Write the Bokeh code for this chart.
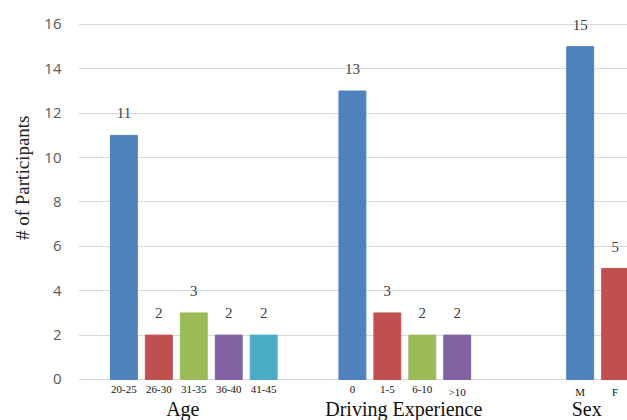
from bokeh.plotting import figure
from bokeh.models import (Range1d, FixedTicker, ColumnDataSource, LabelSet, Title)
from bokeh.embed import file_html
from bokeh.resources import INLINE

# ---- data ----
groups = ["Age", "Driving Experience", "Sex"]
age_labels = ["20-25", "26-30", "31-35", "36-40", "41-45"]
age_counts = [11, 2, 3, 2, 2]
drive_labels = ["0", "1-5", "6-10", ">10"]
drive_counts = [13, 3, 2, 2]
sex_labels = ["M", "F"]
sex_counts = [15, 5]
y_ticks = [0, 2, 4, 6, 8, 10, 12, 14, 16]
y_title = "# of Participants"

# ---- style / layout ----
palette = ["#4F81BD", "#C0504D", "#9BBB59", "#8064A2", "#4BACC6"]
group_gaps = [0.0, 1.54, 2.52]      # extra space before each group (in bar slots)
group_label_shift = [-11, -1, -11]  # pixel nudges of the group titles
bar_width = 0.77
SERIF = "Liberation Serif"

xs, tops, texts, colors, sub_labels = [], [], [], [], []
group_centers = []
pos = 0.0
for g, (labs, vals) in enumerate([(age_labels, age_counts),
                                  (drive_labels, drive_counts),
                                  (sex_labels, sex_counts)]):
    pos += group_gaps[g]
    start = pos
    for i, (lab, v) in enumerate(zip(labs, vals)):
        xs.append(pos)
        tops.append(v)
        texts.append(str(v))
        colors.append(palette[i % len(palette)])
        sub_labels.append(lab)
        pos += 1
    group_centers.append((start + pos - 1) / 2)

src = ColumnDataSource(dict(x=xs, top=tops, text=texts, color=colors,
                            base=[0] * len(xs), sub=sub_labels))
grp_src = ColumnDataSource(dict(x=group_centers, y=[0] * len(groups), text=groups,
                                dx=group_label_shift))

# the frame reaches the bottom edge; the category labels live below y = 0
p = figure(width=627, height=420, output_backend="svg", toolbar_location=None,
           x_range=Range1d(-1.3, 14.414), y_range=Range1d(-1.848, 16.9),
           x_axis_type=None, min_border_left=77, min_border_right=0,
           min_border_top=4, min_border_bottom=0)
p.outline_line_color = None
p.background_fill_color = "white"
p.border_fill_color = "white"

p.vbar(x="x", top="top", width=bar_width, bottom=0, color="color", source=src)

p.add_layout(LabelSet(x="x", y="top", text="text", source=src, text_align="center",
                      text_baseline="bottom", y_offset=17, text_font="Open Sans",
                      text_font_size="15px", text_color="#404040"))

# y axis
yax = p.yaxis[0]
yax.ticker = FixedTicker(ticks=y_ticks)
yax.axis_line_color = None
yax.major_tick_line_color = None
yax.minor_tick_line_color = None
yax.major_label_text_font = "Open Sans"
yax.major_label_text_font_size = "15px"
yax.major_label_text_color = "#595959"
yax.major_label_standoff = 11

p.ygrid.grid_line_color = "#D9D9D9"
p.ygrid.ticker = FixedTicker(ticks=y_ticks)

# y title (left side title, its end placed 111 px below the frame top)
p.add_layout(Title(text=y_title, align="right", offset=111, standoff=18,
                   text_font=SERIF, text_font_size="19px", text_font_style="normal",
                   text_color="#222222"), "left")

# sub-category labels
p.add_layout(LabelSet(x="x", y="base", text="sub", source=src, y_offset=-7,
                      text_align="center", text_baseline="top", text_font=SERIF,
                      text_font_size="11px", text_color="#111111"))

# group titles below the sub-category labels
p.add_layout(LabelSet(x="x", y="y", text="text", source=grp_src, x_offset="dx",
                      y_offset=-19, text_align="center", text_baseline="top",
                      text_font=SERIF, text_font_size="20px", text_color="#111111"))

open("out.html", "w").write(file_html(p, INLINE))
